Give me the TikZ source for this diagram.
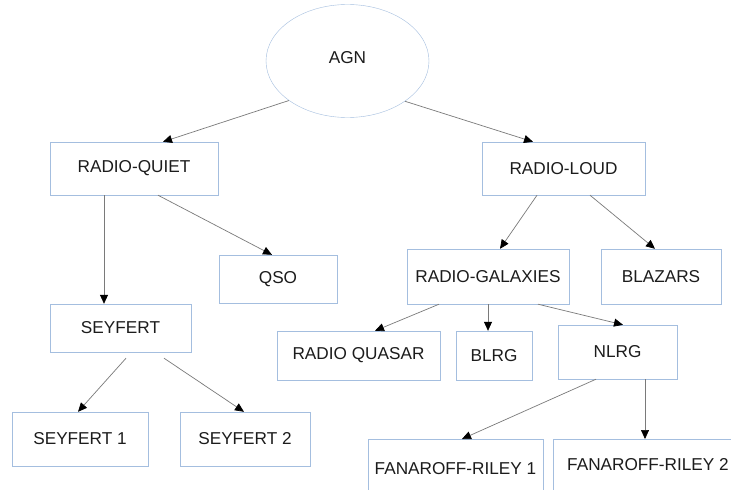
\documentclass[tikz,border=0pt]{standalone}
\usepackage{fontspec}
\setmainfont{Liberation Sans}
\usetikzlibrary{arrows.meta,positioning,shapes.geometric}
\definecolor{frame}{HTML}{A4BEDF}
\definecolor{wire}{HTML}{7A7A7A}
\definecolor{ink}{HTML}{1C1C1C}
\tikzset{box/.style={draw=frame,fill=white,inner sep=0pt,text=ink,font=\fontsize{17.2}{20}\selectfont},arr/.style={-{Triangle[length=9pt,width=8pt,color=black]},draw=wire,line width=0.7pt}}

\begin{document}
\begin{tikzpicture}[x=1pt,y=-1pt]
\fill[white] (0,0) rectangle (731,490);
\useasboundingbox (0,0) rectangle (731,490);
\node[box,ellipse,minimum width=163pt,minimum height=113pt,text depth=8pt] (agn) at (347.5,61) {AGN};
\node[box,minimum width=168pt,minimum height=53pt] (quiet) at (134,168.5) {RADIO-QUIET};
\node[box,minimum width=163pt,minimum height=53pt] (loud) at (563.5,168.5) {RADIO-LOUD};
\node[box,minimum width=118pt,minimum height=48pt] (qso) at (278,279) {QSO};
\node[box,minimum width=141pt,minimum height=48pt] (seyfert) at (120.5,328) {SEYFERT};
\node[box,minimum width=136pt,minimum height=54pt] (sey1) at (80,439) {SEYFERT 1};
\node[box,minimum width=130pt,minimum height=54pt] (sey2) at (245,439) {SEYFERT 2};
\node[box,minimum width=162pt,minimum height=55pt] (galaxies) at (488,276.5) {RADIO-GALAXIES};
\node[box,minimum width=120pt,minimum height=55pt] (blazars) at (661,276.5) {BLAZARS};
\node[box,minimum width=163pt,minimum height=49pt] (quasar) at (358.5,355.5) {RADIO QUASAR};
\node[box,minimum width=76pt,minimum height=49pt] (blrg) at (494,355.5) {BLRG};
\node[box,minimum width=119pt,minimum height=54pt] (nlrg) at (617.5,352) {NLRG};
% the two lowest boxes run off the page
\node[box,anchor=north,minimum width=175pt,inner ysep=23pt,text depth=30pt] (fr1) at (455.5,439) {FANAROFF-RILEY 1};
\node[box,anchor=north,minimum width=190pt,inner ysep=19pt,text depth=30pt] (fr2) at (648,439) {FANAROFF-RILEY 2};
\draw[arr] (agn.214) -- ([xshift=29pt]quiet.north);
\draw[arr] (agn.-35) -- ([xshift=-30.5pt]loud.north);
\draw[arr] ([xshift=-30pt]quiet.south) -- ([xshift=-30pt]quiet.south |- seyfert.north);
\draw[arr] ([xshift=24pt]quiet.south) -- ([xshift=-6pt]qso.north);
\draw[arr] ([xshift=-26.5pt]loud.south) -- ([xshift=12pt]galaxies.north);
\draw[arr] ([xshift=26.5pt]loud.south) -- ([xshift=-6pt]blazars.north);
\draw[arr] ([xshift=-49pt]galaxies.south) -- ([xshift=16.5pt]quasar.north);
\draw[arr] (galaxies.south) -- (galaxies.south |- blrg.north);
\draw[arr] ([xshift=50pt]galaxies.south) -- ([xshift=5.5pt]nlrg.north);
\draw[arr] ([xshift=-21.5pt]nlrg.south) -- ([xshift=6.5pt]fr1.north);
\draw[arr] ([xshift=27.5pt]nlrg.south) -- ([xshift=27.5pt]nlrg.south |- fr2.north);
\draw[arr] ([xshift=5.5pt,yshift=-6pt]seyfert.south) -- ([xshift=-2pt]sey1.north);
\draw[arr] ([xshift=43.5pt,yshift=-6pt]seyfert.south) -- ([xshift=-1pt]sey2.north);
\end{tikzpicture}
\end{document}
